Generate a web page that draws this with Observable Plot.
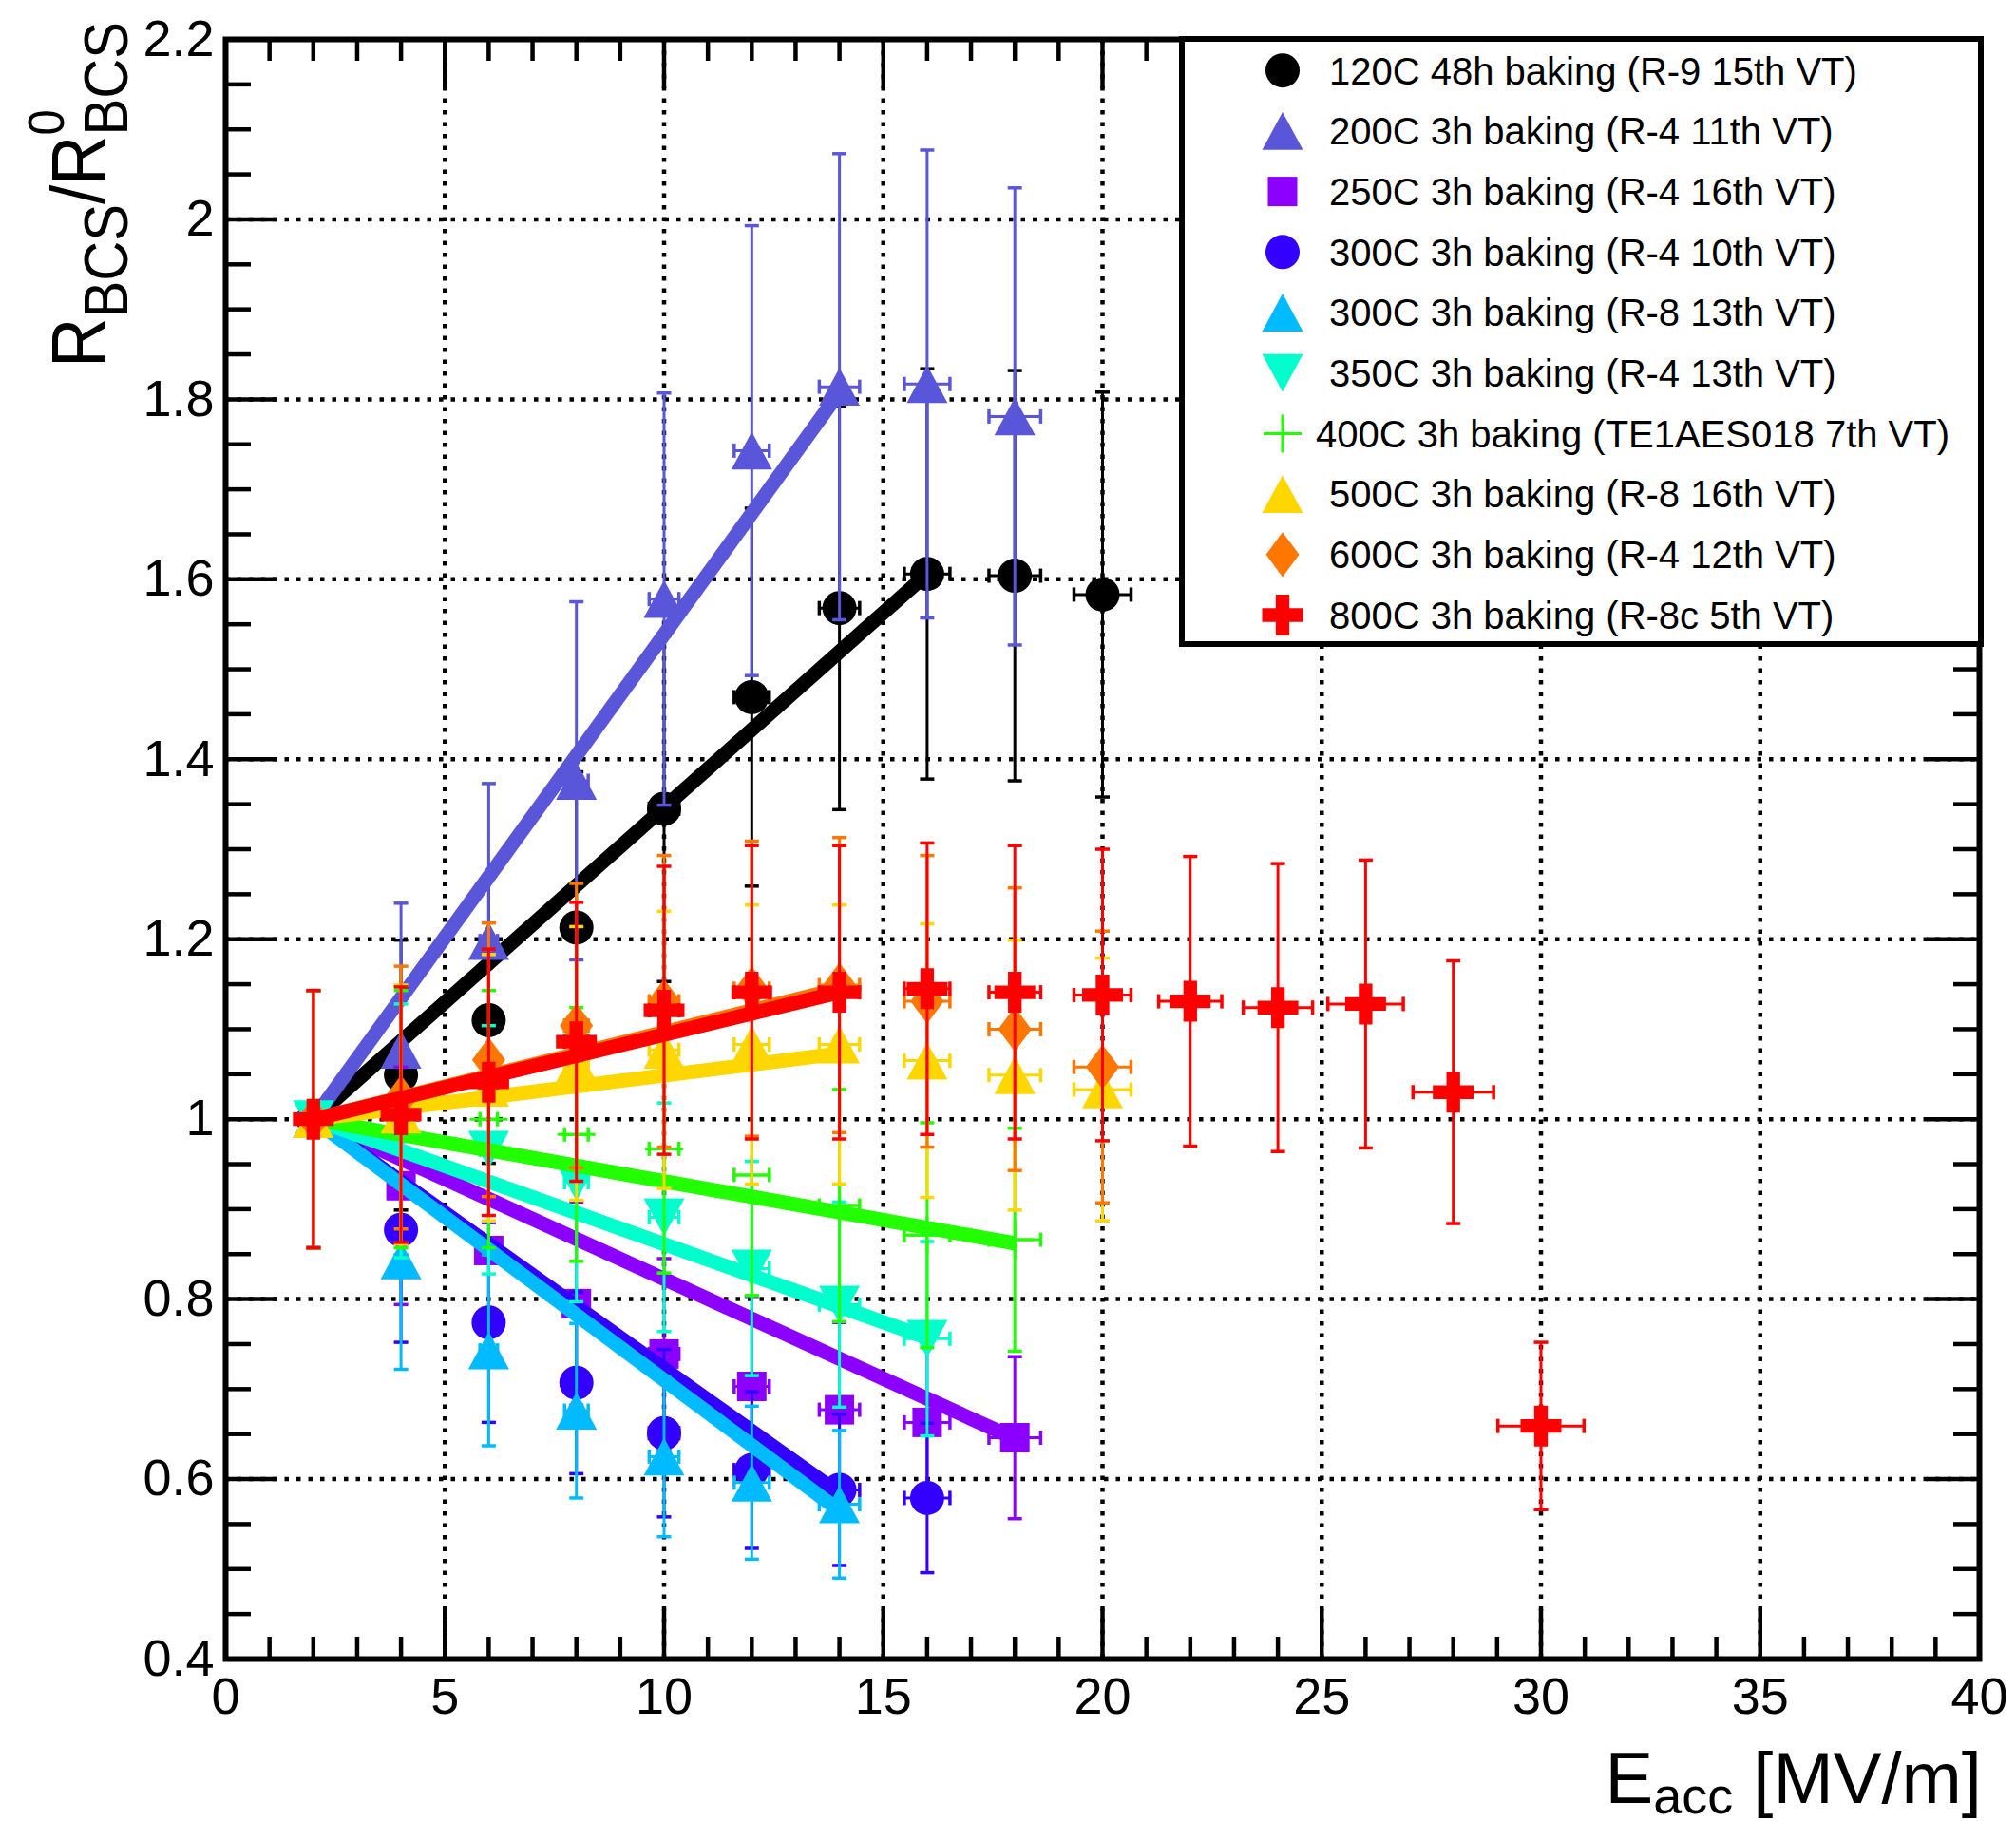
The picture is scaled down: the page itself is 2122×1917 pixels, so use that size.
<!DOCTYPE html>
<html><head><meta charset="utf-8">
<script src="https://cdn.jsdelivr.net/npm/d3@7"></script>
<script src="https://cdn.jsdelivr.net/npm/@observablehq/plot@0.6"></script>
<style>html,body{margin:0;padding:0;background:#fff;} svg{display:block}</style>
</head><body><div id="chart"></div>
<script>
// ---------------- data ----------------
const eacc    = [2, 4, 6, 8, 10, 12, 14, 16, 18, 20, 22, 24, 26, 28, 30];
const eaccErr = [0.07, 0.13, 0.2, 0.27, 0.34, 0.4, 0.46, 0.52, 0.59, 0.65, 0.72, 0.79, 0.86, 0.92, 0.98];

const labels = [
  "120C 48h baking (R-9 15th VT)",
  "200C 3h baking (R-4 11th VT)",
  "250C 3h baking (R-4 16th VT)",
  "300C 3h baking (R-4 10th VT)",
  "300C 3h baking (R-8 13th VT)",
  "350C 3h baking (R-4 13th VT)",
  "400C 3h baking (TE1AES018 7th VT)",
  "500C 3h baking (R-8 16th VT)",
  "600C 3h baking (R-4 12th VT)",
  "800C 3h baking (R-8c 5th VT)"
];
const colors = ["#000000", "#5a56d9", "#8c00ff", "#3300ff", "#00bbff", "#00ffcc", "#22ff00", "#ffd700", "#ff7700", "#ff0000"];

const r120C   = [1.000, 1.049, 1.110, 1.213, 1.345, 1.469, 1.568, 1.606, 1.604, 1.583];
const e120C   = [0.143, 0.150, 0.159, 0.173, 0.192, 0.210, 0.224, 0.228, 0.228, 0.225];
const r200C   = [1.000, 1.077, 1.198, 1.376, 1.578, 1.743, 1.814, 1.817, 1.781];
const e200C   = [0.143, 0.163, 0.175, 0.199, 0.229, 0.250, 0.259, 0.260, 0.254];
const r250C   = [1.000, 0.926, 0.854, 0.795, 0.739, 0.703, 0.677, 0.663, 0.646];
const e250C   = [0.143, 0.132, 0.122, 0.113, 0.106, 0.100, 0.097, 0.095, 0.090];
const r300C4  = [1.000, 0.877, 0.774, 0.707, 0.651, 0.610, 0.588, 0.579];
const e300C4  = [0.143, 0.125, 0.111, 0.101, 0.093, 0.087, 0.084, 0.083];
const r300C8  = [1.000, 0.843, 0.743, 0.676, 0.625, 0.596, 0.572];
const e300C8  = [0.143, 0.121, 0.106, 0.097, 0.089, 0.085, 0.082];
const r350C   = [1.000, 0.987, 0.966, 0.930, 0.891, 0.834, 0.794, 0.756];
const e350C   = [0.143, 0.141, 0.138, 0.133, 0.127, 0.119, 0.114, 0.108];
const r400C   = [1.000, 1.000, 1.000, 0.983, 0.967, 0.938, 0.904, 0.871, 0.866];
const e400C   = [0.143, 0.143, 0.143, 0.141, 0.138, 0.134, 0.129, 0.125, 0.124];
const r500C   = [1.000, 1.005, 1.035, 1.062, 1.077, 1.083, 1.083, 1.065, 1.049, 1.033];
const e500C   = [0.143, 0.144, 0.148, 0.152, 0.154, 0.155, 0.155, 0.152, 0.150, 0.146];
const r600C   = [1.000, 1.024, 1.066, 1.104, 1.131, 1.145, 1.149, 1.131, 1.100, 1.058];
const e600C   = [0.143, 0.146, 0.152, 0.158, 0.162, 0.164, 0.164, 0.162, 0.157, 0.151];
const r800C   = [1.000, 1.005, 1.041, 1.086, 1.121, 1.141, 1.141, 1.145, 1.141, 1.138, 1.131, 1.124, 1.128, 1.030, 0.659];
const e800C   = [0.143, 0.142, 0.148, 0.155, 0.160, 0.163, 0.163, 0.162, 0.163, 0.162, 0.161, 0.160, 0.160, 0.146, 0.093];

// linear fits: start point and end point of each fitted line
const fitStartE = 2, fitStartR = 1.0;
const fitEndE = [16, 14, 18, 14, 14, 16, 18, 14, 14, 14];
const fitEndR = [1.606, 1.808, 0.645, 0.584, 0.565, 0.757, 0.862, 1.073, 1.145, 1.141];

// axes
const xTickVals = [0, 5, 10, 15, 20, 25, 30, 35, 40];
const xTickLabels = ["0", "5", "10", "15", "20", "25", "30", "35", "40"];
const yTickVals = [0.4, 0.6, 0.8, 1.0, 1.2, 1.4, 1.6, 1.8, 2.0, 2.2];
const yTickLabels = ["0.4", "0.6", "0.8", "1", "1.2", "1.4", "1.6", "1.8", "2", "2.2"];
const xGrid = [5, 10, 15, 20, 25, 30, 35];
const yGrid = [0.6, 0.8, 1.0, 1.2, 1.4, 1.6, 1.8, 2.0];
const xMinor = d3.range(0, 41, 1);
const yMinor = d3.range(0, 37).map(i => +(0.4 + i * 0.05).toFixed(2));

// ---------------- symbols ----------------
const hOf = s => Math.sqrt(s / Math.PI);
const symTriUp = {draw(c, s) { const h = hOf(s); c.moveTo(0, -0.925 * h); c.lineTo(h, 0.925 * h); c.lineTo(-h, 0.925 * h); c.closePath(); }};
const symTriDown = {draw(c, s) { const h = hOf(s); c.moveTo(0, 0.925 * h); c.lineTo(h, -0.925 * h); c.lineTo(-h, -0.925 * h); c.closePath(); }};
const symSquare = {draw(c, s) { const h = hOf(s); c.rect(-h, -h, 2 * h, 2 * h); }};
const symDiamond = {draw(c, s) { const h = hOf(s); c.moveTo(0, -1.35 * h); c.lineTo(h, 0); c.lineTo(0, 1.35 * h); c.lineTo(-h, 0); c.closePath(); }};
const symCross = {draw(c, s) { const h = hOf(s), t = h / 3;
  c.moveTo(-t, -h); c.lineTo(t, -h); c.lineTo(t, -t); c.lineTo(h, -t); c.lineTo(h, t); c.lineTo(t, t);
  c.lineTo(t, h); c.lineTo(-t, h); c.lineTo(-t, t); c.lineTo(-h, t); c.lineTo(-h, -t); c.lineTo(-t, -t); c.closePath(); }};
const symPlus = {draw(c, s) { const h = hOf(s); c.moveTo(-h, 0); c.lineTo(h, 0); c.moveTo(0, -h); c.lineTo(0, h); }};
const symHCap = {draw(c, s) { const h = hOf(s); c.moveTo(-h, 0); c.lineTo(h, 0); }};
const symVCap = {draw(c, s) { const h = hOf(s); c.moveTo(0, -h); c.lineTo(0, h); }};

const values = [r120C, r200C, r250C, r300C4, r300C8, r350C, r400C, r500C, r600C, r800C];
const errors = [e120C, e200C, e250C, e300C4, e300C8, e350C, e400C, e500C, e600C, e800C];
const symbols = ["circle", symTriUp, symSquare, "circle", symTriUp, symTriDown, symPlus, symTriUp, symDiamond, symCross];
const radii = [18, 21.5, 15.5, 18, 21.5, 21.5, 20, 21.5, 17.5, 21.5];
const outline = [false, false, false, false, false, false, true, false, false, false];

// ---------------- marks ----------------
const W = 2122, H = 1917;
const mT = 41, mR = 39, mB = 171, mL = 237;
const frameW = W - mL - mR, frameH = H - mT - mB;

const marks = [];
marks.push(Plot.ruleX(xGrid, {x: d => d, stroke: "black", strokeWidth: 4.5, strokeDasharray: "4.5,8"}));
marks.push(Plot.ruleY(yGrid, {y: d => d, stroke: "black", strokeWidth: 4.5, strokeDasharray: "4.5,8"}));

// ticks (inside, on all four sides)
const isMajX = d => d % 5 === 0;
const isMajY = d => Math.abs(Math.round(d * 5) - d * 5) < 1e-6;
marks.push(Plot.tickX(xMinor.filter(d => !isMajX(d)), {x: d => d, insetTop: frameH - 23, stroke: "black", strokeWidth: 4.5}));
marks.push(Plot.tickX(xMinor.filter(isMajX), {x: d => d, insetTop: frameH - 52, stroke: "black", strokeWidth: 4.5}));
marks.push(Plot.tickX(xMinor.filter(d => !isMajX(d)), {x: d => d, insetBottom: frameH - 23, stroke: "black", strokeWidth: 4.5}));
marks.push(Plot.tickX(xMinor.filter(isMajX), {x: d => d, insetBottom: frameH - 52, stroke: "black", strokeWidth: 4.5}));
marks.push(Plot.tickY(yMinor.filter(d => !isMajY(d)), {y: d => d, insetRight: frameW - 27, stroke: "black", strokeWidth: 4.5}));
marks.push(Plot.tickY(yMinor.filter(isMajY), {y: d => d, insetRight: frameW - 55, stroke: "black", strokeWidth: 4.5}));
marks.push(Plot.tickY(yMinor.filter(d => !isMajY(d)), {y: d => d, insetLeft: frameW - 27, stroke: "black", strokeWidth: 4.5}));
marks.push(Plot.tickY(yMinor.filter(isMajY), {y: d => d, insetLeft: frameW - 55, stroke: "black", strokeWidth: 4.5}));

values.forEach((vals, k) => {
  const col = colors[k];
  const data = vals.map((v, i) => ({x: eacc[i], y: v, e: errors[k][i], ex: eaccErr[i]}));
  marks.push(Plot.ruleX(data, {x: "x", y1: d => d.y - d.e, y2: d => d.y + d.e, stroke: col, strokeWidth: 3}));
  marks.push(Plot.ruleY(data, {y: "y", x1: d => d.x - d.ex, x2: d => d.x + d.ex, stroke: col, strokeWidth: 3}));
  marks.push(Plot.dot(data, {x: "x", y: d => d.y + d.e, symbol: symHCap, r: 7.5, fill: "none", stroke: col, strokeWidth: 3.5}));
  marks.push(Plot.dot(data, {x: "x", y: d => d.y - d.e, symbol: symHCap, r: 7.5, fill: "none", stroke: col, strokeWidth: 3.5}));
  marks.push(Plot.dot(data, {x: d => d.x - d.ex, y: "y", symbol: symVCap, r: 7.5, fill: "none", stroke: col, strokeWidth: 3.5}));
  marks.push(Plot.dot(data, {x: d => d.x + d.ex, y: "y", symbol: symVCap, r: 7.5, fill: "none", stroke: col, strokeWidth: 3.5}));
  if (outline[k]) {
    marks.push(Plot.dot(data, {x: "x", y: "y", symbol: symbols[k], r: radii[k], fill: "none", stroke: col, strokeWidth: 3}));
  } else {
    marks.push(Plot.dot(data, {x: "x", y: "y", symbol: symbols[k], r: radii[k], fill: col, stroke: "none"}));
  }
  marks.push(Plot.link([{x1: fitStartE, y1: fitStartR, x2: fitEndE[k], y2: fitEndR[k]}],
    {x1: "x1", y1: "y1", x2: "x2", y2: "y2", stroke: col, strokeWidth: 15}));
});

marks.push(Plot.frame({stroke: "black", strokeWidth: 6}));
marks.push(Plot.text(yTickVals, {x: 0, y: d => d, text: (d, i) => yTickLabels[i], textAnchor: "end", dx: -12, fontSize: 54, fill: "black"}));
marks.push(Plot.text(xTickVals, {x: d => d, y: 0.4, text: (d, i) => xTickLabels[i], dy: 40, fontSize: 54, fill: "black"}));

const plot = Plot.plot({
  width: W, height: H,
  marginTop: mT, marginRight: mR, marginBottom: mB, marginLeft: mL,
  x: {domain: [0, 40], axis: null},
  y: {domain: [0.4, 2.2], axis: null},
  style: {fontFamily: "'Liberation Sans', Arial, Helvetica, sans-serif", background: "white", overflow: "visible"},
  marks
});
document.getElementById("chart").appendChild(plot);

// ---------------- legend & titles ----------------
const svg = d3.select(plot);
const FONT = "'Liberation Sans', Arial, Helvetica, sans-serif";
const lg = svg.append("g").attr("text-anchor", "start");
lg.append("rect").attr("x", 1244).attr("y", 41).attr("width", 841).attr("height", 637)
  .attr("fill", "white").attr("stroke", "black").attr("stroke-width", 6);
labels.forEach((lab, k) => {
  const yy = 74.2 + k * 63.7;
  const sym = symbols[k] === "circle" ? d3.symbolCircle : symbols[k];
  const p = lg.append("path").attr("transform", `translate(1350,${yy})`)
    .attr("d", d3.symbol(sym, radii[k] * radii[k] * Math.PI)());
  if (outline[k]) p.attr("fill", "none").attr("stroke", colors[k]).attr("stroke-width", 3);
  else p.attr("fill", colors[k]);
  lg.append("text").attr("x", k === 6 ? 1385 : 1399).attr("y", yy + 14.3)
    .attr("text-anchor", "start")
    .attr("font-family", FONT).attr("font-size", 40).attr("fill", "black").text(lab);
});

// y title  R_BCS / R^0_BCS
const yt = svg.append("text").attr("transform", "translate(110,387) rotate(-90) scale(0.908,1)")
  .attr("text-anchor", "start")
  .attr("font-family", FONT).attr("font-size", 80).attr("fill", "black");
yt.append("tspan").text("R");
yt.append("tspan").attr("font-size", 64).attr("dy", 24).text("BCS");
yt.append("tspan").attr("dy", -24).text("/R");
yt.append("tspan").attr("font-size", 54).attr("dy", -43).text("0");
yt.append("tspan").attr("font-size", 64).attr("dx", -30).attr("dy", 67).text("BCS");

// x title  E_acc [MV/m]
const xt = svg.append("text").attr("x", 2086).attr("y", 1898).attr("text-anchor", "end")
  .attr("font-family", FONT).attr("font-size", 76).attr("fill", "black");
xt.append("tspan").text("E");
xt.append("tspan").attr("font-size", 54).attr("dy", 11).text("acc");
xt.append("tspan").attr("dy", -11).text(" [MV/m]");
</script>
</body></html>
